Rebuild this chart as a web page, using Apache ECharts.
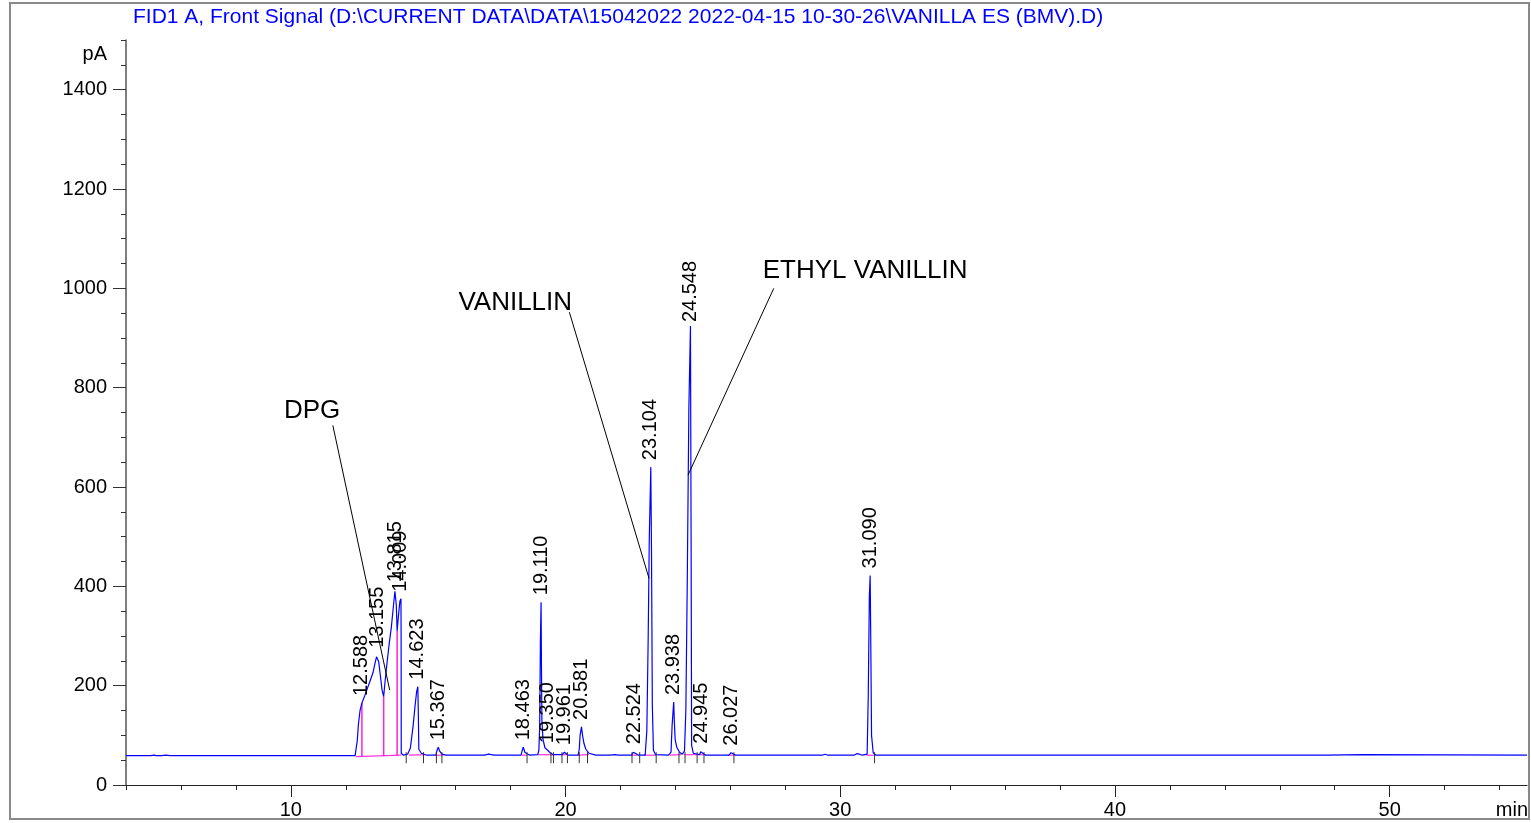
<!DOCTYPE html>
<html>
<head>
<meta charset="utf-8">
<script src="https://cdn.jsdelivr.net/npm/echarts@6/dist/echarts.min.js"></script>
<style>
  html, body { margin: 0; padding: 0; background: #fff; }
  #chart { width: 1531px; height: 823px; }
</style>
</head>
<body>
<div id="chart"></div>
<script>
// FID trace, [min, pA]
const signal = [
  [4.0,59],[4.9,59],[4.95,62],[5.02,60],[5.1,59],[5.3,59],[5.36,61],[5.45,60],[5.6,59],
  [12.34,59],[12.38,63],[12.42,90],[12.46,122],[12.52,150],[12.588,165],[12.7,181],[12.81,198],[12.9,212],[12.99,226],
  [13.06,244],[13.12,258],[13.155,262],[13.2,248],[13.26,220],[13.32,192],[13.38,178],[13.43,208],[13.5,245],[13.58,284],
  [13.66,318],[13.73,358],[13.79,390],[13.815,394],[13.84,362],[13.87,310],[13.92,342],[13.97,370],[14.009,375],
  [14.015,300],[14.02,64],[14.1,60],[14.25,62],[14.35,74],[14.45,118],[14.52,158],[14.58,188],[14.623,198],[14.64,150],
  [14.66,72],[14.75,64],[14.95,60],
  [15.28,60],[15.33,71],[15.367,76],[15.42,68],[15.5,62],[15.65,60],[16.6,60],[17.05,60],[17.1,63],[17.2,62],[17.25,61],[17.4,60],
  [18.38,60],[18.43,71],[18.463,76],[18.52,66],[18.6,63],[18.7,60],
  [18.99,61],[19.03,70],[19.06,120],[19.085,290],[19.11,368],[19.125,230],[19.14,130],[19.18,92],[19.25,75],[19.35,70],
  [19.44,65],[19.55,61],[19.88,61],[19.93,65],[19.961,66],[20.0,62],[20.1,60],
  [20.46,60],[20.5,72],[20.53,100],[20.581,117],[20.62,100],[20.67,84],[20.74,72],[20.85,64],[21.1,60],
  [21.4,60],[21.45,61],[21.6,60],[21.8,61],[21.9,60],
  [22.4,60],[22.47,66],[22.524,68],[22.57,63],[22.65,60],
  [22.9,60],[22.96,110],[23.01,300],[23.05,500],[23.104,640],[23.13,470],[23.16,160],[23.2,70],[23.28,61],
  [23.75,60],[23.84,66],[23.88,120],[23.938,167],[23.96,130],[23.99,92],[24.05,76],[24.15,66],[24.25,62],
  [24.33,68],[24.38,150],[24.43,400],[24.49,760],[24.548,924],[24.57,520],[24.59,80],[24.65,64],
  [24.88,61],[24.92,67],[24.945,69],[24.99,63],[25.1,60],
  [25.95,60],[26.0,64],[26.027,65],[26.08,63],[26.2,60],
  [29.35,60],[29.45,62],[29.55,60],
  [30.5,60],[30.6,63],[30.7,62],[30.8,60],
  [30.98,62],[31.02,180],[31.06,380],[31.09,422],[31.11,300],[31.14,100],[31.2,65],[31.3,60],
  [36.2,60],[36.25,61],[36.3,60],[42.9,60],[42.95,61],[43.0,60],
  [47.7,60],[47.75,61],[49.0,61],[49.05,60],[55,60]
];

// integrated peaks: retention time and apex height
const peakTimes   = [12.588, 13.155, 13.815, 14.009, 14.623, 15.367, 18.463, 19.110, 19.350,
                     19.961, 20.581, 22.524, 23.104, 23.938, 24.548, 24.945, 26.027, 31.090];
const peakHeights = [165, 262, 394, 375, 198, 76, 76, 368, 70,
                     66, 117, 68, 640, 167, 918, 69, 65, 422];

// integration baseline pieces [t1, v1, t2, v2] and drop lines [t, base, top]
const integBaselines = [
  [12.36,57,14.02,60],[14.3,60,14.9,61],[15.3,60,15.55,60],[18.4,60,18.6,60],[19.0,61,19.6,61],
  [19.85,61,20.05,61],[20.45,60,20.85,61],[22.4,60,22.6,60],[22.85,60,23.3,60],[23.8,60,24.2,61],
  [24.3,61,25.1,61],[25.9,60,26.2,60],[30.95,60,31.25,60]
];
const dropLines = [[12.588,57,165],[13.38,58,178],[13.87,59,310]];
// peak start / end marks
const boundaryTicks = [14.2,14.83,15.3,15.5,18.6,19.47,19.56,19.87,20.07,20.5,20.8,
                       22.42,22.7,23.3,24.13,24.35,24.79,25.04,26.13,31.25];

// compound names and their leader lines [t1, v1, t2, v2]
const compoundNames = ['DPG', 'VANILLIN', 'ETHYL VANILLIN'];
const namePos = [[9.75,754],[16.1,970],[27.18,1036]];
const leaderLines = [[11.53,724,13.60,191],[20.14,952,23.04,416],[27.58,1000,24.46,624]];

// axis ticks
const xMajor = [10, 20, 30, 40, 50];
const xMinor = [4,6,8,12,14,16,18,22,24,26,28,32,34,36,38,42,44,46,48,52,54];
const yMajor = [0, 200, 400, 600, 800, 1000, 1200, 1400];
const yMinor = [50,100,150,250,300,350,450,500,550,650,700,750,850,900,950,1050,1100,1150,1250,1300,1350,1450,1500];

const FONT = '"Liberation Sans", Arial, sans-serif';
const axisColor = '#555';

const chart = echarts.init(document.getElementById('chart'));

const option = {
  animation: false,
  backgroundColor: '#fff',
  title: {
    text: 'FID1 A, Front Signal (D:\\CURRENT DATA\\DATA\\15042022 2022-04-15 10-30-26\\VANILLA ES (BMV).D)',
    left: 133, top: 7, padding: 0,
    textStyle: { color: '#0000ff', fontSize: 21, fontWeight: 'normal', fontFamily: FONT }
  },
  grid: { left: 126, right: 2, top: 40, bottom: 38 },
  xAxis: [
    {
      type: 'value', min: 4, max: 55, position: 'bottom',
      axisLine: { show: true, onZero: false, lineStyle: { color: '#222', width: 1.2 } },
      axisTick: { show: true, customValues: xMajor, length: 12, lineStyle: { color: '#222' } },
      axisLabel: {
        customValues: xMajor.concat([54.45]), margin: 15,
        color: '#000', fontSize: 20, fontFamily: FONT,
        formatter: v => (v > 54 ? 'min' : v)
      },
      splitLine: { show: false }
    },
    {
      type: 'value', min: 4, max: 55, position: 'bottom',
      axisLine: { show: false },
      axisTick: { show: true, customValues: xMinor, length: 5, lineStyle: { color: '#222' } },
      axisLabel: { show: false },
      splitLine: { show: false }
    }
  ],
  yAxis: [
    {
      type: 'value', min: 0, max: 1500, position: 'left',
      axisLine: { show: true, onZero: false, lineStyle: { color: axisColor, width: 1.5 } },
      axisTick: { show: true, customValues: yMajor, length: 13, lineStyle: { color: '#333' } },
      axisLabel: {
        customValues: yMajor.concat([1470]), margin: 19,
        color: '#000', fontSize: 20, fontFamily: FONT,
        formatter: v => (v === 1470 ? 'pA' : v)
      },
      splitLine: { show: false }
    },
    {
      type: 'value', min: 0, max: 1500, position: 'left',
      axisLine: { show: false },
      axisTick: { show: true, customValues: yMinor, length: 5, lineStyle: { color: '#333' } },
      axisLabel: { show: false },
      splitLine: { show: false }
    }
  ],
  graphic: [
    { type: 'rect', shape: { x: 10, y: 3, width: 1519, height: 816 },
      style: { fill: 'none', stroke: '#8a8a8a', lineWidth: 2 }, silent: true }
  ],
  series: [
    {
      // integration baseline
      type: 'custom', silent: true, z: 2,
      data: integBaselines,
      renderItem: (params, api) => {
        const a = api.coord([api.value(0), api.value(1)]);
        const b = api.coord([api.value(2), api.value(3)]);
        return { type: 'line', shape: { x1: a[0], y1: a[1], x2: b[0], y2: b[1] },
                 style: { stroke: '#ff33dd', lineWidth: 1.2 } };
      }
    },
    {
      // drop lines
      type: 'custom', silent: true, z: 2,
      data: dropLines,
      renderItem: (params, api) => {
        const a = api.coord([api.value(0), api.value(1)]);
        const b = api.coord([api.value(0), api.value(2)]);
        return { type: 'line', shape: { x1: a[0], y1: a[1], x2: b[0], y2: b[1] },
                 style: { stroke: '#ff22dd', lineWidth: 1.5 } };
      }
    },
    {
      type: 'line', data: signal, showSymbol: false, silent: true, z: 3,
      lineStyle: { color: '#0000ff', width: 1.2 }
    },
    {
      // peak start/end marks
      type: 'custom', silent: true, z: 4,
      data: boundaryTicks.map(t => [t, 60]),
      renderItem: (params, api) => {
        const p = api.coord([api.value(0), api.value(1)]);
        return { type: 'line', shape: { x1: p[0], y1: p[1] - 3, x2: p[0], y2: p[1] + 8 },
                 style: { stroke: '#333', lineWidth: 1 } };
      }
    },
    {
      // retention time labels
      type: 'custom', silent: true, z: 5,
      data: peakTimes.map((t, i) => [t, peakHeights[i]]),
      renderItem: (params, api) => {
        const p = api.coord([api.value(0), api.value(1)]);
        return { type: 'text', x: p[0], y: p[1] - 7, rotation: Math.PI / 2,
                 style: { text: api.value(0).toFixed(3), fill: '#000', font: '20px ' + FONT,
                          align: 'left', verticalAlign: 'middle' } };
      }
    },
    {
      // leader lines
      type: 'custom', silent: true, z: 5,
      data: leaderLines,
      renderItem: (params, api) => {
        const a = api.coord([api.value(0), api.value(1)]);
        const b = api.coord([api.value(2), api.value(3)]);
        return { type: 'line', shape: { x1: a[0], y1: a[1], x2: b[0], y2: b[1] },
                 style: { stroke: '#000', lineWidth: 1 } };
      }
    },
    {
      // compound names
      type: 'custom', silent: true, z: 5,
      data: namePos.map((p, i) => [p[0], p[1], i]),
      renderItem: (params, api) => {
        const p = api.coord([api.value(0), api.value(1)]);
        return { type: 'text', x: p[0], y: p[1],
                 style: { text: compoundNames[api.value(2)], fill: '#000', font: '26px ' + FONT,
                          align: 'left', verticalAlign: 'middle' } };
      }
    }
  ]
};

chart.setOption(option);
</script>
</body>
</html>
